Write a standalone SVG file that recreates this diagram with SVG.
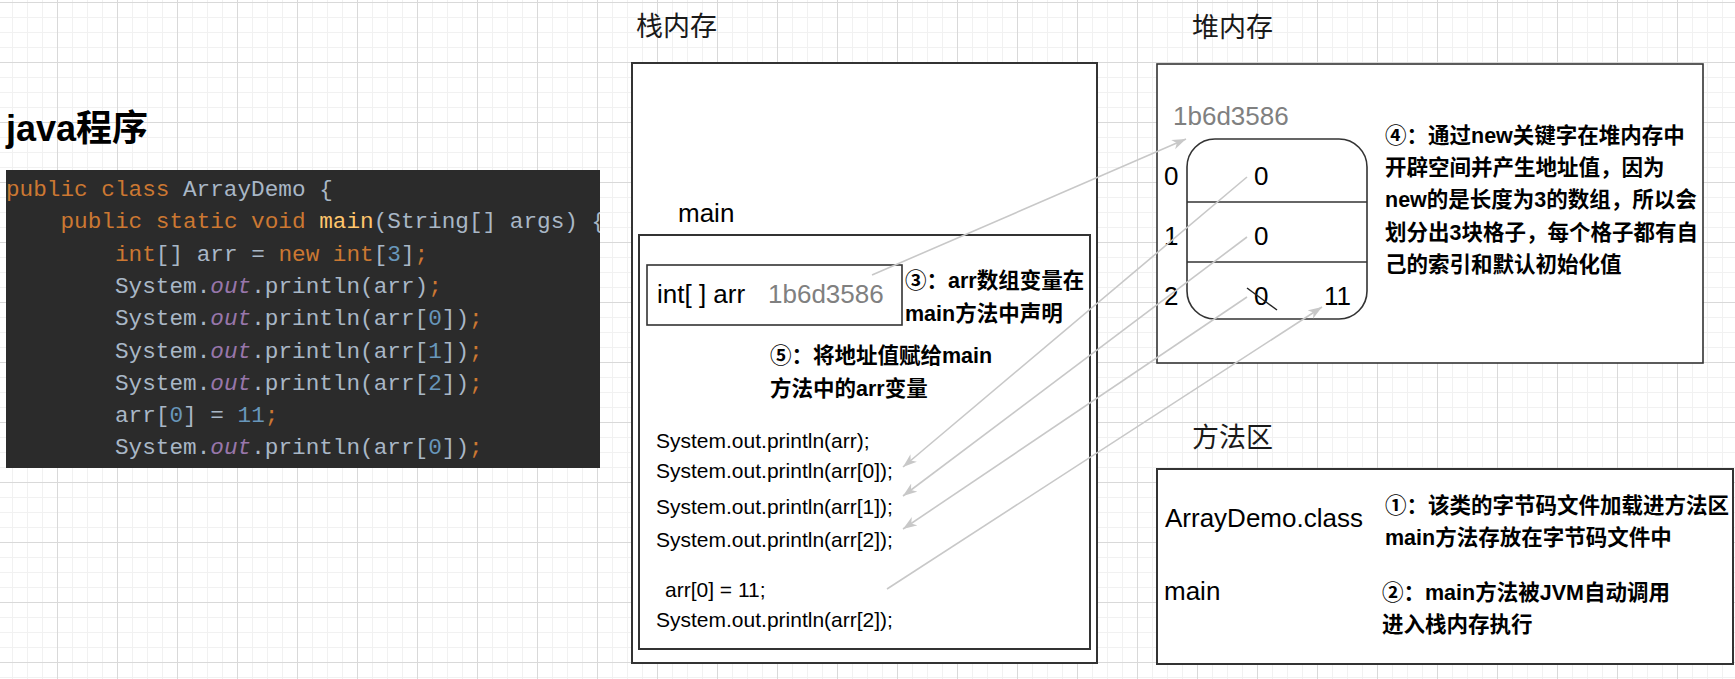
<svg xmlns="http://www.w3.org/2000/svg" width="1735" height="679" viewBox="0 0 1735 679">
<style>
.box{fill:#fff;stroke:#333;stroke-width:2}
.thin{fill:#fff;stroke:#333;stroke-width:1.6}
.lbl{font-family:"Noto Sans CJK SC","Liberation Sans",sans-serif;font-size:27px;fill:#1a1a1a}
.t{font-family:"Liberation Sans","Noto Sans CJK SC",sans-serif;font-size:26px;fill:#000}
.g{fill:#808080}
.sm{font-family:"Liberation Sans","Noto Sans CJK SC",sans-serif;font-size:21px;fill:#000}
.note{font-family:"Liberation Sans","Noto Sans CJK SC",sans-serif;font-size:21.5px;font-weight:bold;fill:#000}
.code{font-family:"Liberation Mono","DejaVu Sans Mono",monospace;font-size:22.7px;fill:#a9b7c6}
.k{fill:#cc7832}
.f{fill:#ffc66d}
.o{fill:#9876aa;font-style:italic}
.n{fill:#6897bb}
.conn line{stroke:#c8c8c8;stroke-width:1.6;fill:none}
</style>
<defs>
<pattern id="grid" patternUnits="userSpaceOnUse" x="57" y="2" width="60" height="60">
<path d="M15.5 0V60M30.5 0V60M45.5 0V60M0 15.5H60M0 30.5H60M0 45.5H60" stroke="#f1f1f1" stroke-width="1"/>
<path d="M0.5 0V60M0 0.5H60" stroke="#d9d9d9" stroke-width="1"/>
</pattern>
<marker id="arr" markerUnits="userSpaceOnUse" markerWidth="16" markerHeight="12" refX="14" refY="5" orient="auto">
<path d="M0,0 L14,5 L0,10 L4,5 Z" fill="#c8c8c8"/>
</marker>
<clipPath id="codeclip"><rect x="6" y="170" width="594" height="298"/></clipPath>
</defs>
<rect width="1735" height="679" fill="#fff"/>
<rect width="1735" height="679" fill="url(#grid)"/>

<g id="java-program">
<text x="6" y="141" font-family="'Liberation Sans','Noto Sans CJK SC',sans-serif" font-size="36" font-weight="bold" fill="#000">java程序</text>
<rect x="6" y="170" width="594" height="298" fill="#2b2b2b"/>
<g class="code" clip-path="url(#codeclip)">
<text x="6" y="196"><tspan class="k">public class </tspan>ArrayDemo {</text>
<text x="60.5" y="228.3"><tspan class="k">public static void </tspan><tspan class="f">main</tspan>(String[] args) {</text>
<text x="115" y="260.6"><tspan class="k">int</tspan>[] arr = <tspan class="k">new int</tspan>[<tspan class="n">3</tspan>]<tspan class="k">;</tspan></text>
<text x="115" y="292.9">System.<tspan class="o">out</tspan>.println(arr)<tspan class="k">;</tspan></text>
<text x="115" y="325.2">System.<tspan class="o">out</tspan>.println(arr[<tspan class="n">0</tspan>])<tspan class="k">;</tspan></text>
<text x="115" y="357.5">System.<tspan class="o">out</tspan>.println(arr[<tspan class="n">1</tspan>])<tspan class="k">;</tspan></text>
<text x="115" y="389.8">System.<tspan class="o">out</tspan>.println(arr[<tspan class="n">2</tspan>])<tspan class="k">;</tspan></text>
<text x="115" y="422.1">arr[<tspan class="n">0</tspan>] = <tspan class="n">11</tspan><tspan class="k">;</tspan></text>
<text x="115" y="454.4">System.<tspan class="o">out</tspan>.println(arr[<tspan class="n">0</tspan>])<tspan class="k">;</tspan></text>
<text x="60.5" y="484">}</text>
</g>
</g>

<g id="stack">
<text class="lbl" x="636" y="36">栈内存</text>
<rect class="box" x="632" y="63" width="465" height="600"/>
<text class="t" x="678" y="222">main</text>
</g>

<g id="main-frame">
<rect class="box" x="639" y="235" width="451" height="414"/>
<rect class="thin" x="647" y="265" width="255" height="60"/>
<text class="t" x="657" y="303">int[ ] arr</text>
<text class="t g" x="768" y="303">1b6d3586</text>
<text class="note" x="905" y="288">③：arr数组变量在</text>
<text class="note" x="905" y="321">main方法中声明</text>
<text class="note" x="770" y="363">⑤：将地址值赋给main</text>
<text class="note" x="770" y="396">方法中的arr变量</text>
<text class="sm" x="656" y="448">System.out.println(arr);</text>
<text class="sm" x="656" y="478">System.out.println(arr[0]);</text>
<text class="sm" x="656" y="514">System.out.println(arr[1]);</text>
<text class="sm" x="656" y="547">System.out.println(arr[2]);</text>
<text class="sm" x="665" y="597">arr[0] = 11;</text>
<text class="sm" x="656" y="627">System.out.println(arr[2]);</text>
</g>

<g id="heap">
<text class="lbl" x="1192" y="37">堆内存</text>
<rect class="thin" x="1157" y="64" width="546" height="299"/>
<text class="t g" x="1173" y="125">1b6d3586</text>
</g>

<g id="array">
<rect class="thin" x="1187" y="139" width="180" height="180" rx="28" ry="28"/>
<line x1="1187" y1="202" x2="1367" y2="202" stroke="#333" stroke-width="1.6"/>
<line x1="1187" y1="262" x2="1367" y2="262" stroke="#333" stroke-width="1.6"/>
<text class="t" x="1164" y="185">0</text>
<text class="t" x="1164" y="245">1</text>
<text class="t" x="1164" y="305">2</text>
<text class="t" x="1254" y="185">0</text>
<text class="t" x="1254" y="245">0</text>
<text class="t" x="1254" y="305">0</text>
<line x1="1247" y1="288" x2="1277" y2="310" stroke="#222" stroke-width="1.5"/>
<text class="t" x="1324" y="305">11</text>
</g>

<g id="heap-note">
<text class="note" x="1385" y="143">④：通过new关键字在堆内存中</text>
<text class="note" x="1385" y="175">开辟空间并产生地址值，因为</text>
<text class="note" x="1385" y="207">new的是长度为3的数组，所以会</text>
<text class="note" x="1385" y="240">划分出3块格子，每个格子都有自</text>
<text class="note" x="1385" y="272">己的索引和默认初始化值</text>
</g>

<g id="method-area">
<text class="lbl" x="1192" y="447">方法区</text>
<rect class="box" x="1157" y="469" width="576" height="195"/>
<text class="t" x="1165" y="527">ArrayDemo.class</text>
<text class="t" x="1164" y="600">main</text>
<text class="note" x="1385" y="513">①：该类的字节码文件加载进方法区</text>
<text class="note" x="1385" y="545">main方法存放在字节码文件中</text>
<text class="note" x="1382" y="600">②：main方法被JVM自动调用</text>
<text class="note" x="1382" y="632">进入栈内存执行</text>
</g>

<g id="connectors" class="conn">
<line x1="872" y1="275" x2="1186" y2="139" marker-end="url(#arr)"/>
<line x1="1247" y1="177" x2="903" y2="467" marker-end="url(#arr)"/>
<line x1="1247" y1="237" x2="903" y2="496" marker-end="url(#arr)"/>
<line x1="1247" y1="297" x2="903" y2="529" marker-end="url(#arr)"/>
<line x1="887" y1="589" x2="1322" y2="307" marker-end="url(#arr)"/>
</g>
</svg>
